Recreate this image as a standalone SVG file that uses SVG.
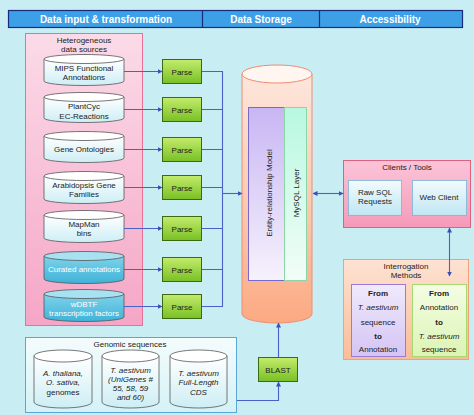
<svg xmlns="http://www.w3.org/2000/svg" width="474" height="415" viewBox="0 0 474 415">
<defs>
<linearGradient id="gPink" x1="0" y1="0" x2="0" y2="1"><stop offset="0" stop-color="#fbdbe8"/><stop offset="1" stop-color="#f5a6c6"/></linearGradient>
<linearGradient id="gCylW" x1="0" y1="0" x2="0" y2="1"><stop offset="0" stop-color="#ffffff"/><stop offset="1" stop-color="#cdeef5"/></linearGradient>
<linearGradient id="gCylB" x1="0" y1="0" x2="0" y2="1"><stop offset="0" stop-color="#7fd3ea"/><stop offset="1" stop-color="#3fb2d8"/></linearGradient>
<linearGradient id="gParse" x1="0" y1="0" x2="0" y2="1"><stop offset="0" stop-color="#c4ec6c"/><stop offset="1" stop-color="#78c024"/></linearGradient>
<linearGradient id="gDB" x1="0" y1="0" x2="0" y2="1"><stop offset="0" stop-color="#fde6dc"/><stop offset="0.5" stop-color="#fccbb2"/><stop offset="1" stop-color="#fbaa82"/></linearGradient>
<linearGradient id="gER" x1="0" y1="0" x2="0" y2="1"><stop offset="0" stop-color="#c8b6f4"/><stop offset="1" stop-color="#f6f2fc"/></linearGradient>
<linearGradient id="gSQL" x1="0" y1="0" x2="0" y2="1"><stop offset="0" stop-color="#b8f8e0"/><stop offset="1" stop-color="#f2fdf8"/></linearGradient>
<linearGradient id="gCli" x1="0" y1="0" x2="0" y2="1"><stop offset="0" stop-color="#fbc4d8"/><stop offset="1" stop-color="#f59ab8"/></linearGradient>
<linearGradient id="gInner" x1="0" y1="0" x2="0" y2="1"><stop offset="0" stop-color="#f2fbfd"/><stop offset="1" stop-color="#bfe6f3"/></linearGradient>
<linearGradient id="gInt" x1="0" y1="0" x2="0" y2="1"><stop offset="0" stop-color="#fde2d2"/><stop offset="1" stop-color="#fbbc98"/></linearGradient>
<linearGradient id="gLav" x1="0" y1="0" x2="0" y2="1"><stop offset="0" stop-color="#f0eafc"/><stop offset="1" stop-color="#d4c4f4"/></linearGradient>
<linearGradient id="gLime" x1="0" y1="0" x2="0" y2="1"><stop offset="0" stop-color="#f4fde4"/><stop offset="1" stop-color="#dcf4b4"/></linearGradient>
<linearGradient id="gGen" x1="0" y1="0" x2="0" y2="1"><stop offset="0" stop-color="#f4fcfd"/><stop offset="1" stop-color="#d4f2f6"/></linearGradient>
<marker id="ah" viewBox="0 0 10 10" refX="9" refY="5" markerWidth="5" markerHeight="5" orient="auto-start-reverse" markerUnits="userSpaceOnUse"><path d="M0,0 L10,5 L0,10 z" fill="#3a4fb8"/></marker>
</defs>
<style>
text{font-family:"Liberation Sans",Arial,sans-serif;text-anchor:middle;fill:#222;font-size:8px}
.hd{font-size:10px;font-weight:bold;fill:#fff}
.cyl{stroke:#555;stroke-width:0.8}
.wt{fill:#fff}
.it{font-style:italic}
.b{font-weight:bold}
.parse{fill:url(#gParse);stroke:#3b6a12;stroke-width:1}
.con{fill:none;stroke:#4a62c8;stroke-width:1.1}
</style>
<rect width="474" height="415" fill="#c8eef4"/>
<g id="header">
<rect x="8.5" y="10.5" width="454" height="17" fill="#3d9fe6" stroke="#1a2a7a" stroke-width="1.2"/>
<line x1="202.5" y1="10.5" x2="202.5" y2="27.5" stroke="#1a2a7a" stroke-width="1.2"/>
<line x1="319.5" y1="10.5" x2="319.5" y2="27.5" stroke="#1a2a7a" stroke-width="1.2"/>
<text class="hd" x="106" y="22.5">Data input &amp; transformation</text>
<text class="hd" x="261" y="22.5">Data Storage</text>
<text class="hd" x="390" y="22.5">Accessibility</text>
</g>
<g id="heterogeneous">
<rect x="25.5" y="33.5" width="117" height="292" fill="url(#gPink)" stroke="#e67096" stroke-width="1"/>
<text x="84" y="43">Heterogeneous</text>
<text x="84" y="52">data sources</text>
</g>
<g id="mips">
<path class="cyl" d="M44,59 v22 a40,4.5 0 0 0 80,0 v-22" fill="url(#gCylW)"/>
<ellipse class="cyl" cx="84" cy="59" rx="40" ry="4.5" fill="#fff"/>
<text x="84" y="71">MIPS Functional</text><text x="84" y="80">Annotations</text>
</g>
<g id="plantcyc">
<path class="cyl" d="M44,97 v21 a40,4.5 0 0 0 80,0 v-21" fill="url(#gCylW)"/>
<ellipse class="cyl" cx="84" cy="97" rx="40" ry="4.5" fill="#fff"/>
<text x="84" y="109">PlantCyc</text><text x="84" y="119">EC-Reactions</text>
</g>
<g id="geneontologies">
<path class="cyl" d="M44,136 v22 a40,4.5 0 0 0 80,0 v-22" fill="url(#gCylW)"/>
<ellipse class="cyl" cx="84" cy="136" rx="40" ry="4.5" fill="#fff"/>
<text x="84" y="152">Gene Ontologies</text>
</g>
<g id="arabidopsis">
<path class="cyl" d="M44,176 v23 a40,4.5 0 0 0 80,0 v-23" fill="url(#gCylW)"/>
<ellipse class="cyl" cx="84" cy="176" rx="40" ry="4.5" fill="#fff"/>
<text x="84" y="188">Arabidopsis Gene</text><text x="84" y="197">Families</text>
</g>
<g id="mapman">
<path class="cyl" d="M44,215 v23 a40,4.5 0 0 0 80,0 v-23" fill="url(#gCylW)"/>
<ellipse class="cyl" cx="84" cy="215" rx="40" ry="4.5" fill="#fff"/>
<text x="84" y="227">MapMan</text><text x="84" y="236">bins</text>
</g>
<g id="curated">
<path class="cyl" d="M44,256 v23 a40,4.5 0 0 0 80,0 v-23" fill="url(#gCylB)"/>
<ellipse class="cyl" cx="84" cy="256" rx="40" ry="4.5" fill="#a8e2f2"/>
<text class="wt" x="84" y="272">Curated annotations</text>
</g>
<g id="wdbtf">
<path class="cyl" d="M44,294 v23 a40,4.5 0 0 0 80,0 v-23" fill="url(#gCylB)"/>
<ellipse class="cyl" cx="84" cy="294" rx="40" ry="4.5" fill="#a8e2f2"/>
<text class="wt" x="84" y="307">wDBTF</text><text class="wt" x="84" y="316">transcription factors</text>
</g>
<g id="parse1"><rect class="parse" x="162.5" y="59.5" width="39" height="24"/><text x="182" y="74.5">Parse</text></g>
<g id="parse2"><rect class="parse" x="162.5" y="97.5" width="39" height="24"/><text x="182" y="112.5">Parse</text></g>
<g id="parse3"><rect class="parse" x="162.5" y="137.5" width="39" height="24"/><text x="182" y="152.5">Parse</text></g>
<g id="parse4"><rect class="parse" x="162.5" y="175.5" width="39" height="24"/><text x="182" y="190.5">Parse</text></g>
<g id="parse5"><rect class="parse" x="162.5" y="216.5" width="39" height="24"/><text x="182" y="231.5">Parse</text></g>
<g id="parse6"><rect class="parse" x="162.5" y="257.5" width="39" height="24"/><text x="182" y="272.5">Parse</text></g>
<g id="parse7"><rect class="parse" x="162.5" y="294.5" width="39" height="24"/><text x="182" y="309.5">Parse</text></g>
<g id="database">
<path d="M242,74 V314 A35,9 0 0 0 312,314 V74" fill="url(#gDB)" stroke="#f08c72" stroke-width="1"/>
<ellipse cx="277" cy="74" rx="35" ry="9" fill="#fff6f2" stroke="#f08c72" stroke-width="1"/>
<rect x="248.5" y="107.5" width="36" height="173" fill="url(#gER)" stroke="#7868cc" stroke-width="1"/>
<rect x="284.5" y="107.5" width="22" height="173" fill="url(#gSQL)" stroke="#8cd6a6" stroke-width="1"/>
<text x="269" y="193" transform="rotate(-90 269 193)" dy="3">Entity-relationship Model</text>
<text x="296" y="193" transform="rotate(-90 296 193)" dy="3">MySQL Layer</text>
</g>
<g id="clients">
<rect x="343.5" y="160.5" width="127" height="67" fill="url(#gCli)" stroke="#e2607f" stroke-width="1"/>
<text x="407" y="170">Clients / Tools</text>
<rect x="348.5" y="180.5" width="53" height="35" fill="url(#gInner)" stroke="#7ab6d6" stroke-width="0.8"/>
<text x="375" y="195">Raw SQL</text><text x="375" y="204">Requests</text>
<rect x="412.5" y="180.5" width="54" height="35" fill="url(#gInner)" stroke="#7ab6d6" stroke-width="0.8"/>
<text x="439" y="200">Web Client</text>
</g>
<g id="interrogation">
<rect x="343.5" y="259.5" width="125" height="100" fill="url(#gInt)" stroke="#f0a07a" stroke-width="1"/>
<text x="406" y="269">Interrogation</text><text x="406" y="278">Methods</text>
<rect x="351.5" y="284.5" width="54" height="72" fill="url(#gLav)" stroke="#9a7ad6" stroke-width="1"/>
<text class="b" x="378" y="296">From</text>
<text class="it" x="378" y="310">T. aestivum</text>
<text x="378" y="325">sequence</text>
<text class="b" x="378" y="339">to</text>
<text x="378" y="352">Annotation</text>
<rect x="412.5" y="284.5" width="54" height="72" fill="url(#gLime)" stroke="#a8d870" stroke-width="1"/>
<text class="b" x="439" y="296">From</text>
<text x="439" y="310">Annotation</text>
<text class="b" x="439" y="325">to</text>
<text class="it" x="439" y="339">T. aestivum</text>
<text x="439" y="352">sequence</text>
</g>
<g id="genomic">
<rect x="25.5" y="337.5" width="211" height="75" fill="url(#gGen)" stroke="#5aa6d8" stroke-width="1"/>
<text x="130" y="347">Genomic sequences</text>
<path class="cyl" d="M34,356 v46 a29,6 0 0 0 58,0 v-46" fill="url(#gCylW)"/>
<ellipse class="cyl" cx="63" cy="356" rx="29" ry="6" fill="#fff"/>
<text class="it" x="63" y="376">A. thaliana,</text><text class="it" x="63" y="385">O. sativa,</text><text x="63" y="395">genomes</text>
<path class="cyl" d="M102,356 v46 a28.5,6 0 0 0 57,0 v-46" fill="url(#gCylW)"/>
<ellipse class="cyl" cx="130.5" cy="356" rx="28.5" ry="6" fill="#fff"/>
<text class="it" x="130.5" y="373">T. aestivum</text><text class="it" x="130.5" y="382">(UniGenes #</text><text class="it" x="130.5" y="391">55, 58, 59</text><text class="it" x="130.5" y="400">and 60)</text>
<path class="cyl" d="M170,356 v46 a28.5,6 0 0 0 57,0 v-46" fill="url(#gCylW)"/>
<ellipse class="cyl" cx="198.5" cy="356" rx="28.5" ry="6" fill="#fff"/>
<text class="it" x="198.5" y="376">T. aestivum</text><text class="it" x="198.5" y="385">Full-Length</text><text class="it" x="198.5" y="395">CDS</text>
</g>
<g id="blast"><rect class="parse" x="258.5" y="357.5" width="39" height="24"/><text x="278" y="372.5">BLAST</text></g>
<g id="connectors">
<line class="con" x1="124" y1="71.5" x2="162" y2="71.5" marker-end="url(#ah)"/>
<line class="con" x1="124" y1="109.5" x2="162" y2="109.5" marker-end="url(#ah)"/>
<line class="con" x1="124" y1="149.5" x2="162" y2="149.5" marker-end="url(#ah)"/>
<line class="con" x1="124" y1="187.5" x2="162" y2="187.5" marker-end="url(#ah)"/>
<line class="con" x1="124" y1="228.5" x2="162" y2="228.5" marker-end="url(#ah)"/>
<line class="con" x1="124" y1="269.5" x2="162" y2="269.5" marker-end="url(#ah)"/>
<line class="con" x1="124" y1="306.5" x2="162" y2="306.5" marker-end="url(#ah)"/>
<path class="con" d="M202,71.5 H222.5 M202,109.5 H222.5 M202,149.5 H222.5 M202,187.5 H222.5 M202,228.5 H222.5 M202,269.5 H222.5 M202,306.5 H222.5 M222.5,71 V307"/>
<line class="con" x1="222.5" y1="193.5" x2="242" y2="193.5" marker-end="url(#ah)"/>
<line class="con" x1="313" y1="193.5" x2="343" y2="193.5" marker-start="url(#ah)" marker-end="url(#ah)"/>
<line class="con" x1="449.5" y1="228" x2="449.5" y2="276" marker-start="url(#ah)" marker-end="url(#ah)"/>
<path class="con" d="M237,400.5 H278.5 V382" marker-end="url(#ah)"/>
<line class="con" x1="278.5" y1="357" x2="278.5" y2="323" marker-end="url(#ah)"/>
</g>
</svg>
